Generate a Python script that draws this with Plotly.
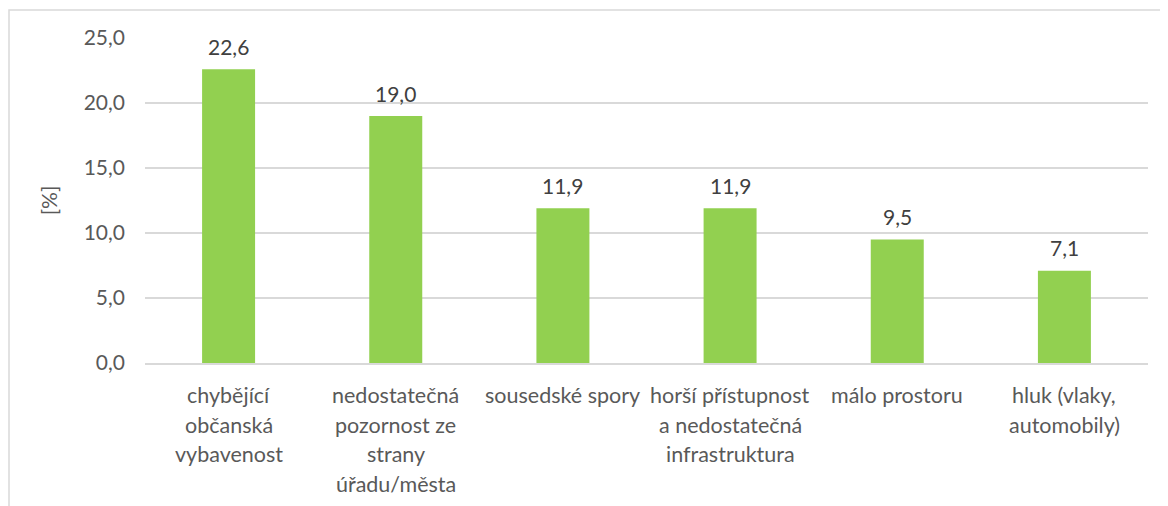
import plotly.graph_objects as go

categories = ["chybějící občanská vybavenost", "nedostatečná pozornost ze strany úřadu/města",
              "sousedské spory", "horší přístupnost a nedostatečná infrastruktura",
              "málo prostoru", "hluk (vlaky, automobily)"]
label_lines = [["chybějící", "občanská", "vybavenost"],
               ["nedostatečná", "pozornost ze", "strany", "úřadu/města"],
               ["sousedské spory"],
               ["horší přístupnost", "a nedostatečná", "infrastruktura"],
               ["málo prostoru"],
               ["hluk (vlaky,", "automobily)"]]
values = [22.6, 19.0, 11.9, 11.9, 9.5, 7.1]
y_ticks = [0, 5, 10, 15, 20, 25]

FONT = "Lato"
fig = go.Figure(go.Bar(x=categories, y=values, marker=dict(color="#92D050", line=dict(width=0)),
                       hoverinfo="skip"))

ann = []
for c, v in zip(categories, values):
    ann.append(dict(x=c, y=v, xref="x", yref="y", text=f"{v:.1f}".replace(".", ","),
                    showarrow=False, yanchor="middle", yshift=23,
                    font=dict(family=FONT, size=21, color="#404040")))
for c, lines in zip(categories, label_lines):
    for i, ln in enumerate(lines):
        ann.append(dict(x=c, y=0, xref="x", yref="y", text=ln, showarrow=False,
                        yanchor="middle", yshift=-32 - 29.5 * i,
                        font=dict(family=FONT, size=21.5, color="#595959")))

# page body has an 8px margin, figure is offset accordingly
W, H = 1160, 498
L, R, T, B = 137, 20, 30, 143
pw, ph = W - L - R, H - T - B
fig.update_layout(
    width=W, height=H,
    margin=dict(l=L, r=R, t=T, b=B),
    paper_bgcolor="white", plot_bgcolor="white",
    bargap=0.683,
    showlegend=False,
    annotations=ann,
    font=dict(family=FONT, color="#595959"),
    xaxis=dict(showticklabels=False, showline=True, linecolor="#d9d9d9", linewidth=1.5,
               ticks="", showgrid=False, fixedrange=True),
    yaxis=dict(range=[0, 25], tickvals=y_ticks,
               ticktext=[f"{t:.1f}".replace(".", ",") for t in y_ticks],
               tickfont=dict(family=FONT, size=21, color="#595959"),
               showgrid=True, gridcolor="#d9d9d9", gridwidth=1.5, zeroline=False,
               ticks="", ticklabelstandoff=19,
               title=dict(text="[%]", font=dict(family=FONT, size=21, color="#595959"), standoff=20)),
    shapes=[dict(type="rect", xref="paper", yref="paper",
                 x0=(1 - L) / pw, x1=(W + 40 - L) / pw,
                 y0=-(B + 60) / ph, y1=(ph + T - 2) / ph,
                 line=dict(color="#d9d9d9", width=1.5), layer="below")],
)
fig.write_html("out.html")
